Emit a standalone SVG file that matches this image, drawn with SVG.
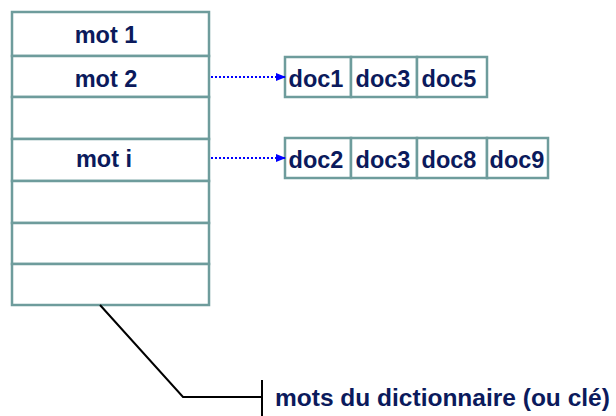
<svg xmlns="http://www.w3.org/2000/svg" width="616" height="416" viewBox="0 0 616 416">
<defs>
<style>
.cell{fill:#ffffff;stroke:#6e9c9c;stroke-width:2.5}
.t{font-family:"Liberation Sans",Arial,sans-serif;font-weight:bold;fill:#0b1a5c}
.w{font-size:23.5px;text-anchor:middle}
.d{font-size:23.5px;text-anchor:middle}
.arr{stroke:#0000ff;stroke-width:2;stroke-dasharray:2 2;fill:none}
.ln{stroke:#000000;stroke-width:2;fill:none}
</style>
<marker id="ah" markerWidth="10" markerHeight="10" refX="9" refY="5" orient="auto" markerUnits="userSpaceOnUse">
<path d="M0,1 L10,5 L0,9 Z" fill="#0000ff"/>
</marker>
</defs>
<g id="dictionary">
<rect class="cell" x="12" y="12" width="197" height="44"/>
<rect class="cell" x="12" y="56" width="197" height="41"/>
<rect class="cell" x="12" y="97" width="197" height="42"/>
<rect class="cell" x="12" y="139" width="197" height="42"/>
<rect class="cell" x="12" y="181" width="197" height="42"/>
<rect class="cell" x="12" y="223" width="197" height="41"/>
<rect class="cell" x="12" y="264" width="197" height="41"/>
<text class="t w" x="106" y="43">mot 1</text>
<text class="t w" x="106" y="87">mot 2</text>
<text class="t w" x="104" y="167">mot i</text>
</g>
<g id="list1">
<rect class="cell" x="285" y="57" width="66" height="40"/>
<rect class="cell" x="351" y="57" width="66" height="40"/>
<rect class="cell" x="417" y="57" width="70" height="40"/>
<text class="t d" x="316" y="87">doc1</text>
<text class="t d" x="383" y="87">doc3</text>
<text class="t d" x="449" y="87">doc5</text>
</g>
<g id="list2">
<rect class="cell" x="285" y="138" width="66" height="40"/>
<rect class="cell" x="351" y="138" width="66" height="40"/>
<rect class="cell" x="417" y="138" width="70" height="40"/>
<rect class="cell" x="487" y="138" width="61" height="40"/>
<text class="t d" x="316" y="168">doc2</text>
<text class="t d" x="383" y="168">doc3</text>
<text class="t d" x="449" y="168">doc8</text>
<text class="t d" x="517" y="168">doc9</text>
</g>
<g id="label">
<text class="t" x="275" y="406" font-size="24.5">mots du dictionnaire (ou clé)</text>
</g>
<g id="connectors">
<line class="arr" x1="211" y1="77" x2="285" y2="77" marker-end="url(#ah)"/>
<line class="arr" x1="211" y1="158" x2="285" y2="158" marker-end="url(#ah)"/>
<polyline class="ln" points="100,305 183,397 262,397"/>
<line class="ln" x1="262" y1="380" x2="262" y2="416"/>
</g>
</svg>
